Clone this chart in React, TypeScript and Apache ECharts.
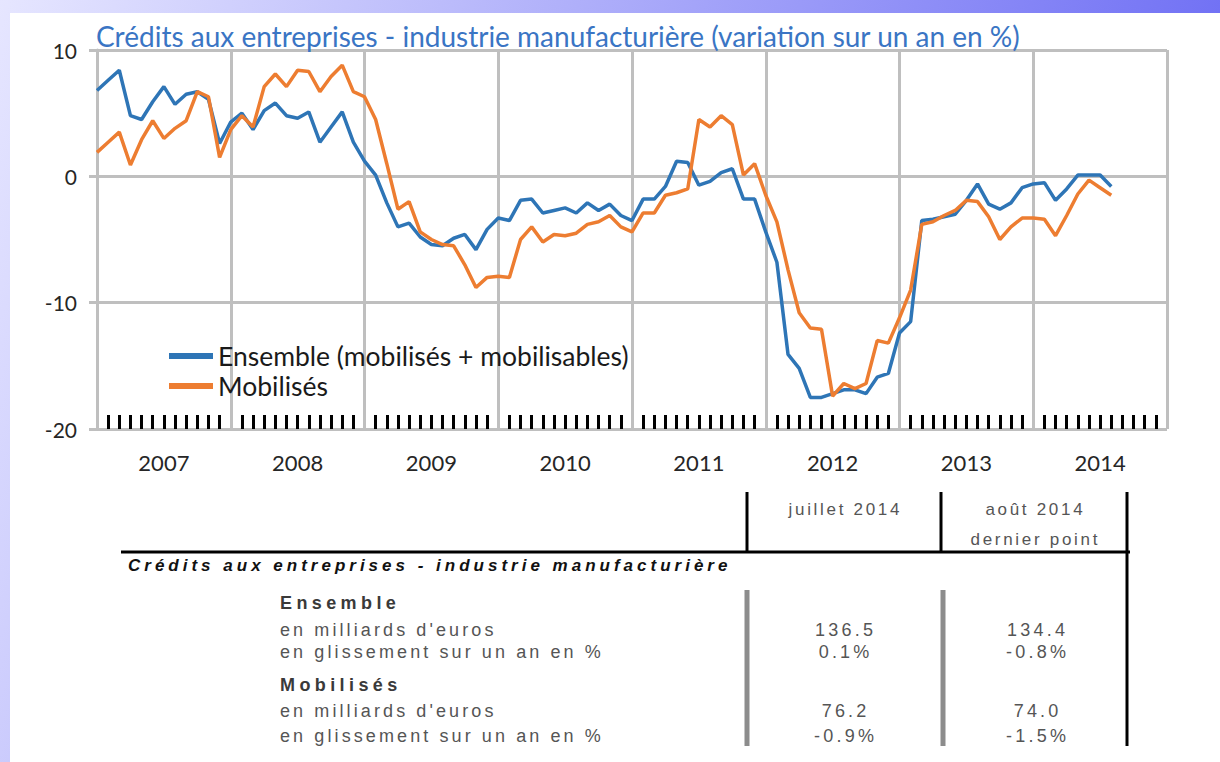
import React, { useEffect, useRef } from 'react';
import * as echarts from 'echarts';

// ---------- data ----------
const years = ['2007', '2008', '2009', '2010', '2011', '2012', '2013', '2014'];
const monthCategories: string[] = [];
years.forEach((y) => {
  for (let m = 1; m <= 12; m++) monthCategories.push(`${y}-${String(m).padStart(2, '0')}`);
});
monthCategories.push('2015-01');

const seriesNames = ['Ensemble (mobilisés + mobilisables)', 'Mobilisés'];

// Ensemble (mobilisés + mobilisables), monthly, Jan 2007 - Aug 2014
const ensemble = [
  6.8, 7.6, 8.4, 4.8, 4.5, 5.9, 7.1, 5.7, 6.5, 6.7, 6.1, 2.6,
  4.3, 5.0, 3.7, 5.2, 5.8, 4.8, 4.6, 5.1, 2.7, 3.9, 5.1, 2.7,
  1.2, 0.1, -2.1, -4.0, -3.7, -4.8, -5.4, -5.5, -4.9, -4.6, -5.8, -4.2,
  -3.3, -3.5, -1.9, -1.8, -2.9, -2.7, -2.5, -2.9, -2.1, -2.7, -2.2, -3.1,
  -3.5, -1.8, -1.8, -0.8, 1.2, 1.1, -0.7, -0.4, 0.3, 0.6, -1.8, -1.8,
  -4.4, -6.8, -14.1, -15.2, -17.5, -17.5, -17.2, -16.9, -16.9, -17.2, -15.9, -15.6,
  -12.4, -11.5, -3.5, -3.4, -3.2, -3.0, -1.9, -0.6, -2.2, -2.6, -2.1, -0.9,
  -0.6, -0.5, -1.9, -1.0, 0.1, 0.1, 0.1, -0.8,
];

// Mobilisés, monthly, Jan 2007 - Aug 2014
const mobilises = [
  1.9, 2.7, 3.5, 0.9, 2.9, 4.4, 3.0, 3.8, 4.4, 6.7, 6.3, 1.5,
  3.7, 4.8, 3.9, 7.1, 8.1, 7.1, 8.4, 8.3, 6.7, 7.9, 8.8, 6.7,
  6.3, 4.5, 1.0, -2.6, -2.0, -4.4, -5.0, -5.4, -5.5, -7.0, -8.8, -8.0,
  -7.9, -8.0, -5.0, -4.0, -5.2, -4.6, -4.7, -4.5, -3.8, -3.6, -3.1, -4.0,
  -4.4, -2.9, -2.9, -1.5, -1.3, -1.0, 4.5, 3.9, 4.8, 4.1, 0.1, 1.0,
  -1.5, -3.6, -7.4, -10.8, -12.0, -12.1, -17.4, -16.4, -16.8, -16.4, -13.0, -13.2,
  -11.2, -9.0, -3.8, -3.6, -3.1, -2.7, -1.9, -2.0, -3.2, -5.0, -4.0, -3.3,
  -3.3, -3.4, -4.7, -3.1, -1.4, -0.3, -0.9, -1.5,
];

const yMin = -20;
const yMax = 10;
const yStep = 10;

const titleText = 'Crédits aux entreprises - industrie manufacturière (variation sur un an en %)';

// ---------- table ----------
const tableHeading = 'Crédits aux entreprises - industrie manufacturière';
const columnHeaders = ['juillet 2014', 'août 2014'];
const columnSubHeader = 'dernier point';
const groupNames = ['Ensemble', 'Mobilisés'];
const rowLabels = ["en milliards d'euros", 'en glissement sur un an en %'];
const julyValues = ['136.5', '0.1%', '76.2', '-0.9%'];
const augustValues = ['134.4', '-0.8%', '74.0', '-1.5%'];

const BLUE = '#2e75b6';
const ORANGE = '#ed7d31';
const GRID = '#bfbfbf';

const tableFont = '"Liberation Sans", Arial, sans-serif';

function Txt(props: {
  x: number; cy: number; text: string; size: number; spacing: number;
  color?: string; weight?: string; italic?: boolean; center?: boolean;
}) {
  const { x, cy, text, size, spacing, color = '#555', weight = 'normal', italic = false, center = false } = props;
  const style: React.CSSProperties = {
    position: 'absolute',
    top: cy - 12,
    height: 24,
    lineHeight: '24px',
    fontFamily: tableFont,
    fontSize: size,
    letterSpacing: spacing,
    color,
    fontWeight: weight as any,
    fontStyle: italic ? 'italic' : 'normal',
    whiteSpace: 'nowrap',
  };
  if (center) {
    style.left = x - 150;
    style.width = 300;
    style.textAlign = 'center';
    style.paddingLeft = spacing;
    style.boxSizing = 'border-box';
  } else {
    style.left = x;
  }
  return <div style={style}>{text}</div>;
}

export default function App() {
  const ref = useRef<HTMLDivElement>(null);

  useEffect(() => {
    if (!ref.current) return;
    const chart = echarts.init(ref.current, undefined, { renderer: 'svg' });
    const lineRect = (x: number, y: number, w: number, h: number, color: string) => ({
      type: 'rect', shape: { x, y, width: w, height: h }, style: { fill: color }, silent: true,
    });
    chart.setOption({
      animation: false,
      backgroundColor: 'transparent',
      textStyle: { fontFamily: 'Lato' },
      title: {
        text: titleText,
        left: 96,
        top: 20,
        padding: 0,
        textStyle: { fontFamily: 'Lato', fontSize: 28, fontWeight: 'normal', color: '#3a75c4', lineHeight: 32 },
      },
      legend: {
        data: seriesNames,
        orient: 'vertical',
        left: 169,
        top: 341,
        padding: 0,
        itemGap: 0,
        icon: 'rect',
        itemWidth: 44,
        itemHeight: 6,
        textStyle: { fontFamily: 'Lato', fontSize: 26.5, color: '#1a1a1a', lineHeight: 30 },
      },
      grid: { left: 97, right: 53, top: 50, bottom: 333, containLabel: false },
      xAxis: [
        {
          type: 'category',
          data: monthCategories,
          boundaryGap: false,
          position: 'bottom',
          axisLine: { show: true, lineStyle: { color: GRID, width: 3 } },
          axisTick: {
            show: true,
            interval: (i: number) => i % 12 === 0,
            length: 43,
            lineStyle: { color: GRID, width: 3 },
          },
          axisLabel: {
            interval: (i: number) => i % 12 === 6,
            formatter: (v: string) => v.slice(0, 4),
            fontFamily: 'Lato',
            fontSize: 22,
            color: '#262626',
            margin: 22,
          },
          splitLine: {
            show: true,
            interval: (i: number) => i % 12 === 0,
            lineStyle: { color: GRID, width: 3 },
          },
        },
        {
          type: 'category',
          data: monthCategories,
          boundaryGap: false,
          position: 'bottom',
          axisLine: { show: false },
          axisLabel: { show: false },
          splitLine: { show: false },
          axisTick: {
            show: true,
            inside: true,
            length: 14,
            interval: (i: number) => i % 12 !== 0,
            lineStyle: { color: '#000000', width: 3 },
          },
        },
      ],
      yAxis: {
        type: 'value',
        min: yMin,
        max: yMax,
        interval: yStep,
        axisLine: { show: true, lineStyle: { color: GRID, width: 3 } },
        axisTick: { show: true, length: 8, lineStyle: { color: GRID, width: 3 } },
        axisLabel: { fontFamily: 'Lato', fontSize: 21, color: '#262626', margin: 20 },
        splitLine: { show: true, lineStyle: { color: GRID, width: 3 } },
      },
      series: [
        {
          name: seriesNames[0],
          type: 'line',
          data: ensemble,
          xAxisIndex: 0,
          symbol: 'none',
          lineStyle: { color: BLUE, width: 3.5 },
          itemStyle: { color: BLUE },
          z: 3,
        },
        {
          name: seriesNames[1],
          type: 'line',
          data: mobilises,
          xAxisIndex: 0,
          symbol: 'none',
          lineStyle: { color: ORANGE, width: 3.5 },
          itemStyle: { color: ORANGE },
          z: 4,
        },
      ],
      graphic: [
        lineRect(745.5, 492, 3, 61, '#000'),
        lineRect(939.5, 492, 3, 61, '#000'),
        lineRect(1125.5, 492, 3, 254, '#000'),
        lineRect(121, 550.5, 1009, 3, '#000'),
        lineRect(744.5, 590, 5, 156, '#8c8c8c'),
        lineRect(940.5, 590, 5, 156, '#8c8c8c'),
      ],
    });
    return () => chart.dispose();
  }, []);

  return (
    <div
      style={{
        position: 'fixed', left: 0, top: 0, width: 1220, height: 762, overflow: 'hidden',
        background: 'linear-gradient(110deg, #e6e6ff 0%, #5858f2 100%)',
      }}
    >
      <div style={{ position: 'absolute', left: 10, top: 13, width: 1210, height: 749, background: '#ffffff' }} />
      <div ref={ref} style={{ position: 'absolute', left: 0, top: 0, width: 1220, height: 762 }} />
      <Txt x={844} cy={510} text={columnHeaders[0]} size={17} spacing={2.7} center />
      <Txt x={1034} cy={510} text={columnHeaders[1]} size={17} spacing={2.7} center />
      <Txt x={1034} cy={540} text={columnSubHeader} size={17} spacing={2.7} center />
      <Txt x={128} cy={566} text={tableHeading} size={17} spacing={4.0} color="#111" weight="bold" italic />
      <Txt x={280} cy={603} text={groupNames[0]} size={18} spacing={4.4} color="#3a3a3a" weight="bold" />
      <Txt x={280} cy={630} text={rowLabels[0]} size={18} spacing={3.1} />
      <Txt x={280} cy={652} text={rowLabels[1]} size={18} spacing={3.1} />
      <Txt x={280} cy={685} text={groupNames[1]} size={18} spacing={4.4} color="#3a3a3a" weight="bold" />
      <Txt x={280} cy={711} text={rowLabels[0]} size={18} spacing={3.1} />
      <Txt x={280} cy={736} text={rowLabels[1]} size={18} spacing={3.1} />
      <Txt x={844} cy={630} text={julyValues[0]} size={18} spacing={3.2} center />
      <Txt x={844} cy={652} text={julyValues[1]} size={18} spacing={3.2} center />
      <Txt x={844} cy={711} text={julyValues[2]} size={18} spacing={3.2} center />
      <Txt x={844} cy={736} text={julyValues[3]} size={18} spacing={3.2} center />
      <Txt x={1036} cy={630} text={augustValues[0]} size={18} spacing={3.2} center />
      <Txt x={1036} cy={652} text={augustValues[1]} size={18} spacing={3.2} center />
      <Txt x={1036} cy={711} text={augustValues[2]} size={18} spacing={3.2} center />
      <Txt x={1036} cy={736} text={augustValues[3]} size={18} spacing={3.2} center />
    </div>
  );
}
